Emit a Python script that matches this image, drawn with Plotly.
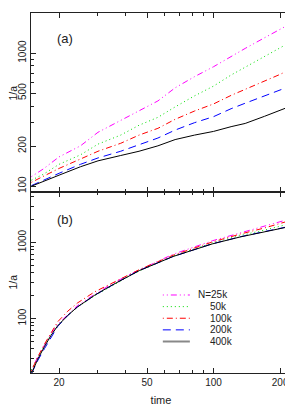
import math
import plotly.graph_objects as go
from plotly.subplots import make_subplots

# ---------------- data ----------------
series_names = ["N=25k", "50k", "100k", "200k", "400k"]
colors = ["#ff00ff", "#00dd00", "#ff0000", "#0000ff", "#000000"]
dashes = ["1px,3px,1px,3px,6px,3px", "1px,3px", "1px,3px,6px,3px", "8px,5px", "solid"]

# panel (a)
t_a = [15, 17, 20, 25, 30, 38, 46, 56, 67, 82, 100, 120, 139, 170, 200, 224]
a_25k = [118, 135, 166, 201, 254, 313, 366, 437, 548, 665, 790, 946, 1084, 1303, 1513, 1671]
a_50k = [111, 123, 146, 172, 207, 242, 287, 329, 394, 477, 565, 684, 783, 946, 1104, 1216]
a_100k = [107, 119, 136, 160, 183, 210, 242, 272, 318, 367, 415, 481, 533, 615, 692, 760]
a_200k = [101, 111, 125, 146, 163, 183, 206, 230, 264, 300, 333, 382, 420, 476, 528, 567]
a_400k = [100, 109, 121, 140, 155, 170, 183, 201, 224, 242, 258, 280, 296, 335, 371, 400]

# panel (b)
t_b = [15.0, 16.0, 17.2, 18.4, 19.7, 21.9, 24.2, 29.0, 34.3, 41.0, 46.3, 65.5, 98.7, 132, 170, 224]
b_25k = [21.1, 31, 45, 63, 84, 114, 148, 209, 281, 371, 439, 701, 1056, 1340, 1626, 2063]
b_50k = [21.1, 30.2, 44.3, 61.2, 80.8, 110, 141, 200, 265, 353, 426, 662, 989, 1239, 1460, 1784]
b_100k = [20.5, 31, 46.4, 65.4, 90.4, 125, 160, 225, 289, 371, 443, 681, 1018, 1293, 1557, 1964]
b_200k = [18.9, 27.8, 40.4, 55.8, 78.4, 110, 142, 203, 270, 360, 430, 655, 965, 1192, 1396, 1650]
b_400k = [18.8, 29, 43, 60, 80, 110, 142, 203, 270, 360, 430, 655, 960, 1186, 1390, 1637]

x_ticks = [20, 50, 100, 200]
x_minor = [30, 40, 60, 70, 80, 90]
ya_ticks = [100, 200, 500, 1000, 2000]
ya_minor = [300, 400, 600, 700, 800, 900]
yb_ticks = [100, 1000]
yb_minor = [20, 30, 40, 50, 60, 70, 80, 90, 200, 300, 400, 500, 600, 700, 800, 900, 2000, 3000, 4000]

top_vals = [a_25k, a_50k, a_100k, a_200k, a_400k]
bot_vals = [b_25k, b_50k, b_100k, b_200k, b_400k]

# ---------------- figure ----------------
FONT = "Liberation Sans, Arial, sans-serif"
AX = "#222222"

fig = make_subplots(rows=2, cols=1, shared_xaxes=True, vertical_spacing=0)

for name, col, dash, ya, yb in zip(series_names, colors, dashes, top_vals, bot_vals):
    fig.add_trace(go.Scatter(x=t_a, y=ya, mode="lines", name=name, showlegend=False,
                             line=dict(color=col, width=1, dash=dash)), row=1, col=1)
    fig.add_trace(go.Scatter(x=t_b, y=yb, mode="lines", name=name, showlegend=False,
                             line=dict(color=col, width=1, dash=dash)), row=2, col=1)

common = dict(type="log", ticks="inside", ticklen=5, tickcolor=AX, tickwidth=1,
              showline=True, linecolor=AX, linewidth=1, mirror="ticks",
              showgrid=False, zeroline=False, automargin=False,
              tickfont=dict(family=FONT, size=10, color=AX))

xrange = [math.log10(14.93), math.log10(224)]
fig.update_xaxes(range=xrange, tickvals=x_ticks, ticktext=[str(v) for v in x_ticks],
                 minor=dict(ticks="inside", ticklen=3, tickcolor=AX, tickvals=x_minor, showgrid=False),
                 **common)
fig.update_xaxes(showticklabels=False, row=1, col=1)
fig.update_xaxes(showticklabels=True, title=dict(text="time", standoff=13,
                 font=dict(family=FONT, size=11, color=AX)), row=2, col=1)

fig.update_yaxes(domain=[0.502, 1.0], range=[math.log10(90), math.log10(2000)],
                 tickvals=ya_ticks, ticktext=[str(v) for v in ya_ticks], tickangle=-90,
                 minor=dict(ticks="inside", ticklen=3, tickcolor=AX, tickvals=ya_minor, showgrid=False),
                 row=1, col=1, **common)
fig.update_yaxes(domain=[0.0, 0.502], range=[math.log10(19.2), math.log10(4590)],
                 tickvals=yb_ticks, ticktext=[str(v) for v in yb_ticks], tickangle=-90,
                 minor=dict(ticks="inside", ticklen=3, tickcolor=AX, tickvals=yb_minor, showgrid=False),
                 row=2, col=1, **common)

# y-axis titles
for ytitle_y in (0.777, 0.252):
    fig.add_annotation(text="1/a", xref="paper", yref="paper", x=-0.0685, y=ytitle_y,
                       xanchor="center", yanchor="middle", textangle=-90, showarrow=False,
                       borderpad=0, font=dict(family=FONT, size=10.5, color=AX))

# panel labels
fig.add_annotation(text="(a)", xref="x domain", yref="y domain", x=0.13, y=0.855,
                   xanchor="center", yanchor="middle",
                   showarrow=False, font=dict(family=FONT, size=13, color=AX))
fig.add_annotation(text="(b)", xref="x2 domain", yref="y2 domain", x=0.13, y=0.85,
                   xanchor="center", yanchor="middle",
                   showarrow=False, font=dict(family=FONT, size=13, color=AX))

# legend key (drawn in paper coordinates inside panel b)
leg_x0, leg_x1 = 0.507, 0.611
leg_text_x = 0.681
leg_first_text_x = 0.636
leg_y0, leg_step = 0.2167, 0.0323
for i, (name, col, dash) in enumerate(zip(series_names, colors, dashes)):
    yy = leg_y0 - i * leg_step
    lcol = "#888888" if col == "#000000" else col
    lw = 2 if col == "#000000" else 1
    fig.add_shape(type="line", xref="paper", yref="paper", x0=leg_x0, x1=leg_x1, y0=yy, y1=yy,
                  line=dict(color=lcol, width=lw, dash=dash))
    fig.add_annotation(text=name, xref="paper", yref="paper",
                       x=leg_first_text_x if i == 0 else leg_text_x, y=yy,
                       xanchor="left", yanchor="middle", showarrow=False,
                       font=dict(family=FONT, size=10, color=AX))

# page body has an 8px margin, so the figure is sized to end at the window edge
fig.update_layout(width=285, height=398, margin=dict(l=23, r=2, t=5, b=33),
                  paper_bgcolor="white", plot_bgcolor="white", showlegend=False,
                  font=dict(family=FONT, size=10, color=AX))

fig.write_html("out.html")
